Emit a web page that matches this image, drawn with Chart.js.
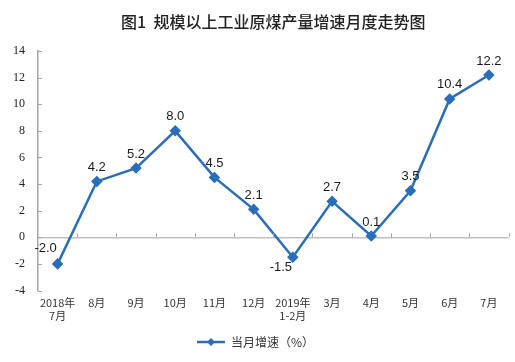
<!DOCTYPE html>
<html>
<head>
<meta charset="utf-8">
<script src="https://cdn.jsdelivr.net/npm/chart.js@4/dist/chart.umd.min.js"></script>
<style>
  body { margin: 0; background: #fff; }
  #wrap { width: 515px; height: 362px; }
</style>
</head>
<body>
<div id="wrap"><canvas id="myChart" width="515" height="362"></canvas></div>
<script>
// data
const months = [
  ["2018年", "7月"], "8月", "9月", "10月", "11月", "12月",
  ["2019年", "1-2月"], "3月", "4月", "5月", "6月", "7月"
];
const growth = [-2.0, 4.2, 5.2, 8.0, 4.5, 2.1, -1.5, 2.7, 0.1, 3.5, 10.4, 12.2];
const yTicks = [-4, -2, 0, 2, 4, 6, 8, 10, 12, 14];
const seriesName = "当月增速（%）";
const titleText = "图1  规模以上工业原煤产量增速月度走势图";

const blue = "#2a6ebb";

// legend symbol: short line with a diamond
let sym = document.createElement("canvas");
sym.width = 28; sym.height = 10;
let sc = sym.getContext("2d");
sc.strokeStyle = blue; sc.lineWidth = 2.5;
sc.beginPath(); sc.moveTo(0, 5); sc.lineTo(28, 5); sc.stroke();
sc.fillStyle = blue;
sc.beginPath(); sc.moveTo(14, 1); sc.lineTo(18, 5); sc.lineTo(14, 9); sc.lineTo(10, 5); sc.closePath(); sc.fill();

// title, small tick marks, value labels
const extras = {
  id: "extras",
  afterDraw(chart) {
    const ctx = chart.ctx;
    const area = chart.chartArea;
    const x = chart.scales.x, y = chart.scales.y;
    ctx.save();

    ctx.fillStyle = "#222";
    ctx.font = "500 16px 'Noto Sans CJK SC'";
    ctx.textAlign = "center";
    ctx.textBaseline = "middle";
    ctx.fillText(titleText, (area.left + area.right) / 2, 22);

    // y tick marks, pointing inward
    ctx.strokeStyle = "#a6a6a6";
    ctx.lineWidth = 1;
    yTicks.forEach(v => {
      let py = Math.round(y.getPixelForValue(v)) + 0.5;
      ctx.beginPath(); ctx.moveTo(area.left, py); ctx.lineTo(area.left + 4, py); ctx.stroke();
    });
    // x tick marks on the zero line, between categories
    let zy = y.getPixelForValue(0);
    for (let i = 1; i <= months.length; i++) {
      let px = Math.round(x.getPixelForValue(i - 0.5)) + 0.5;
      ctx.beginPath(); ctx.moveTo(px, zy); ctx.lineTo(px, zy - 4); ctx.stroke();
    }

    // value labels
    ctx.font = "13px 'Liberation Sans', Arial";
    ctx.fillStyle = "#1a1a1a";
    const meta = chart.getDatasetMeta(0);
    meta.data.forEach((pt, i) => {
      let v = growth[i];
      let lx = pt.x, ly = pt.y - 14;
      if (v < 0) {
        lx = pt.x - 12;
        ly = i == 0 ? pt.y - 15 : pt.y + 10;
      }
      ctx.fillText(v.toFixed(1), lx, ly);
    });
    ctx.restore();
  }
};

const chart = new Chart(document.getElementById("myChart"), {
  type: "line",
  data: {
    labels: months,
    datasets: [{
      label: seriesName,
      data: growth,
      borderColor: blue,
      backgroundColor: blue,
      borderWidth: 2.5,
      pointStyle: "rectRot",
      pointRadius: 4,
      pointHoverRadius: 4,
      tension: 0
    }]
  },
  options: {
    responsive: false,
    animation: false,
    devicePixelRatio: 1,
    layout: { padding: { top: 51, right: 4, bottom: 4, left: 0 } },
    plugins: {
      title: { display: false },
      tooltip: { enabled: false },
      legend: {
        position: "bottom",
        labels: {
          usePointStyle: true,
          pointStyle: sym,
          pointStyleWidth: 28,
          color: "#333",
          font: { family: "'Noto Sans CJK SC'", size: 12 },
          padding: 8
        }
      }
    },
    scales: {
      x: {
        offset: true,
        grid: { display: false, drawTicks: false },
        border: { display: false },
        ticks: {
          maxRotation: 0,
          autoSkip: false,
          padding: 5,
          color: "#333",
          font: { family: "'Noto Sans CJK SC'", size: 11, lineHeight: 1.25 }
        }
      },
      y: {
        min: -4,
        max: 14,
        afterFit(s) { s.width = 38; },
        afterBuildTicks(s) { s.ticks = yTicks.map(v => ({ value: v })); },
        grid: {
          drawTicks: false,
          color: c => c.tick && c.tick.value === 0 ? "#c0c0c0" : "rgba(0,0,0,0)",
          lineWidth: 1.5
        },
        border: { display: true, color: "#a6a6a6", width: 1.5 },
        ticks: {
          padding: 13,
          color: "#222",
          font: { family: "'Liberation Serif', 'Times New Roman'", size: 12 }
        }
      }
    }
  },
  plugins: [extras]
});
</script>
</body>
</html>
